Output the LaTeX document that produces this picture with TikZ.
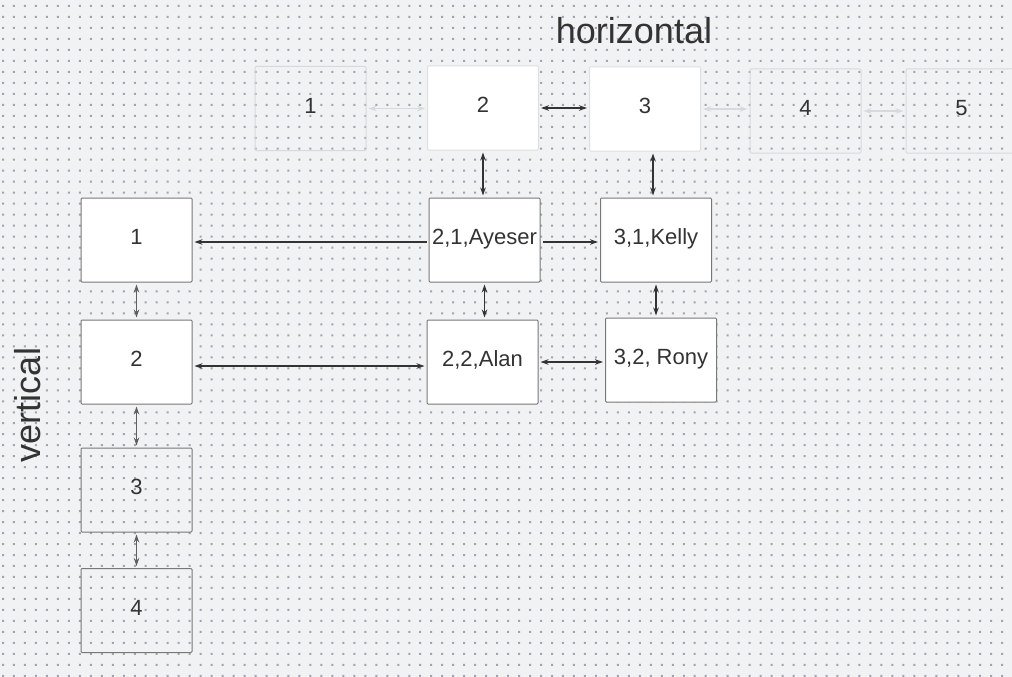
\documentclass[tikz,border=0pt]{standalone}
\usepackage{fontspec}
\setmainfont{Liberation Sans}
\usetikzlibrary{arrows.meta}
\definecolor{bgc}{RGB}{241,242,244}
\definecolor{dotc}{RGB}{160,164,174}
\definecolor{txtc}{RGB}{51,51,51}
\definecolor{boxc}{RGB}{120,120,120}
\definecolor{lightc}{RGB}{222,223,226}
\definecolor{ghostc}{RGB}{215,217,220}
\definecolor{linkc}{RGB}{95,95,95}

\begin{document}
\begin{tikzpicture}[x=1pt,y=-1pt,>={Stealth[length=8pt,width=5.5pt]},
  box/.style={draw=boxc,line width=1pt,fill=white,rounded corners=1pt,minimum width=111pt,minimum height=84pt,inner sep=0pt,
    text height=15pt,text depth=6pt,font=\fontsize{22}{26}\selectfont,text=txtc},
  topbox/.style={box,draw=lightc},
  ghost/.style={box,draw=ghostc,fill=none},
  open/.style={box,fill=none},
  link/.style={<->,draw=txtc,line width=1.9pt,shorten <=2pt,shorten >=2pt},
  faint/.style={link,draw=ghostc,line width=1.6pt},
  side/.style={link,draw=linkc,line width=1.4pt}]
			\useasboundingbox (0,0) rectangle (1012,677);
			\fill[bgc] (0,0) rectangle (1012,677);
			\fill[dotc] \foreach \i in {0,...,92} {\foreach \j in {0,...,61} {(2+\i*10.98,5+\j*10.98) rectangle ++(2,2)}};
			% titles
			\node[text=txtc,font=\fontsize{36}{40}\selectfont] (hor) at (634,31) {horizontal};
			\node[text=txtc,font=\fontsize{36}{40}\selectfont,rotate=90] (ver) at (28,405) {vertical};
			% top row
			\node[ghost] (h1) at (310.5,108.5) {1};
			\node[topbox] (h2) at (483,108) {2};
			\node[topbox] (h3) at (645,109) {3};
			\node[ghost] (h4) at (805.5,111) {4};
			\node[ghost] (h5) at (961.5,111) {5};
			% left column
			\node[box] (v1) at (136.5,240) {1};
			\node[box] (v2) at (136.5,362) {2};
			\node[open] (v3) at (136.5,490) {3};
			\node[open] (v4) at (136.5,610.5) {4};
			% entries
			\node[box] (ayeser) at (484.5,240) {2,1,Ayeser};
			\node[box] (kelly) at (656,240) {3,1,Kelly};
			\node[box] (alan) at (482.5,362) {2,2,Alan};
			\node[box] (rony) at (661,360) {3,2, Rony};
			% links
			\draw[faint] (h1.east) -- (h1.east -| h2.west);
			\draw[link] (h2.east) -- (h2.east -| h3.west);
			\draw[faint] (h3.east) -- (h3.east -| h4.west);
			\draw[faint] (h4.east) -- (h4.east -| h5.west);
			\draw[link] (h2.south) -- (h2.south |- ayeser.north);
			\draw[link] ([xshift=8pt]h3.south) -- ([xshift=8pt]h3.south |- kelly.north);
			\draw[link,<-] ([yshift=-2pt]ayeser.west -| v1.east) -- ([yshift=-2pt]ayeser.west);
			\draw[link,->] ([yshift=-2pt]ayeser.east) -- ([yshift=-2pt]ayeser.east -| kelly.west);
			\draw[link] (ayeser.south) -- (ayeser.south |- alan.north);
			\draw[link] (kelly.south) -- (kelly.south |- rony.north);
			\draw[link] ([yshift=-4pt]v2.east) -- ([yshift=-4pt]v2.east -| alan.west);
			\draw[link] (alan.east) -- (alan.east -| rony.west);
			\foreach \a/\b in {v1/v2,v2/v3,v3/v4} \draw[side] (\a.south) -- (\b.north);
		\end{tikzpicture}
\end{document}
